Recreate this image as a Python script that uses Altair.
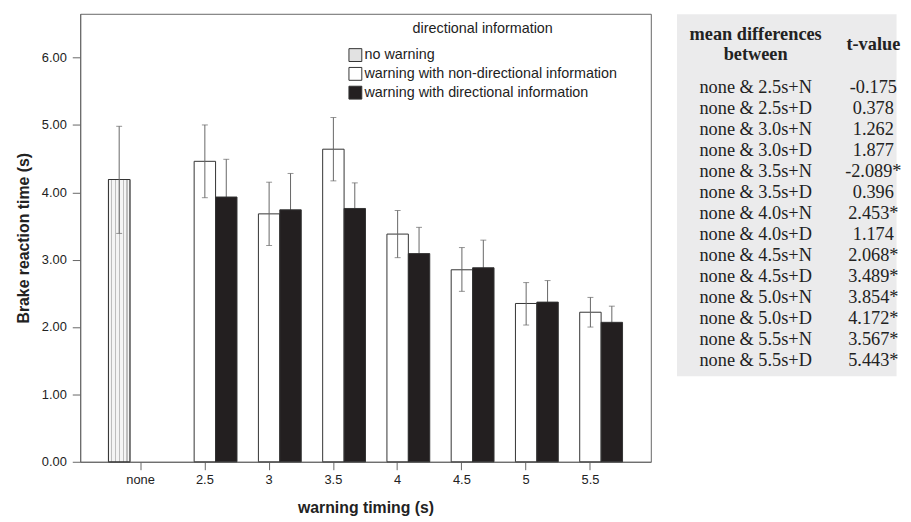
import altair as alt
import pandas as pd

# ---------------- data ----------------
timings = ["none", "2.5", "3", "3.5", "4", "4.5", "5", "5.5"]
series = ["no warning",
          "warning with non-directional information",
          "warning with directional information"]

none_mean = 4.19
none_lo = 3.39
none_hi = 4.98

nondir_mean = [4.46, 3.68, 4.64, 3.38, 2.85, 2.35, 2.22]
nondir_lo = [3.92, 3.21, 4.17, 3.03, 2.53, 2.03, 2.00]
nondir_hi = [5.00, 4.15, 5.11, 3.73, 3.18, 2.66, 2.44]

dir_mean = [3.93, 3.74, 3.76, 3.09, 2.88, 2.37, 2.07]
dir_lo = [3.37, 3.20, 3.38, 2.70, 2.47, 2.05, 1.83]
dir_hi = [4.49, 4.28, 4.14, 3.48, 3.29, 2.69, 2.31]

pairs = ["none & 2.5s+N", "none & 2.5s+D", "none & 3.0s+N", "none & 3.0s+D",
         "none & 3.5s+N", "none & 3.5s+D", "none & 4.0s+N", "none & 4.0s+D",
         "none & 4.5s+N", "none & 4.5s+D", "none & 5.0s+N", "none & 5.0s+D",
         "none & 5.5s+N", "none & 5.5s+D"]
tvalues = ["-0.175", "0.378", "1.262", "1.877", "-2.089*", "0.396", "2.453*",
           "1.174", "2.068*", "3.489*", "3.854*", "4.172*", "3.567*", "5.443*"]

rows = [dict(timing="none", series=series[0], mean=none_mean, lo=none_lo, hi=none_hi)]
for i, t in enumerate(timings[1:]):
    rows.append(dict(timing=t, series=series[1], mean=nondir_mean[i],
                     lo=nondir_lo[i], hi=nondir_hi[i]))
    rows.append(dict(timing=t, series=series[2], mean=dir_mean[i],
                     lo=dir_lo[i], hi=dir_hi[i]))
df = pd.DataFrame(rows)

FONT = "Liberation Sans"
SERIF = "Liberation Serif"
GREY = "#666666"
TXT = "#222222"

x_enc = alt.X("timing:N", sort=timings,
              scale=alt.Scale(domain=timings, paddingInner=0, paddingOuter=0.44),
              axis=alt.Axis(title="warning timing (s)", labelAngle=0,
                            labelFont=FONT, labelFontSize=13, labelColor=TXT,
                            titleFont=FONT, titleFontSize=16, titleFontWeight="bold",
                            titleColor=TXT, titlePadding=13, tickSize=8,
                            labelPadding=4, domainColor=GREY, tickColor=GREY))
xo_enc = alt.XOffset("series:N", sort=series,
                     scale=alt.Scale(domain=series, paddingInner=0, paddingOuter=0))
yscale = alt.Scale(domain=[0, 6.65], nice=False, zero=True)
y_enc = alt.Y("mean:Q", scale=yscale,
              axis=alt.Axis(title="Brake reaction time (s)", values=[0, 1, 2, 3, 4, 5, 6],
                            format=".2f", grid=False, labelFont=FONT, labelFontSize=13,
                            labelColor=TXT, titleFont=FONT, titleFontSize=16,
                            titleFontWeight="bold", titleColor=TXT, titlePadding=10,
                            tickSize=8, labelPadding=6, domainColor=GREY, tickColor=GREY))

base = alt.Chart(df).encode(x=x_enc, xOffset=xo_enc)

is_dir = alt.datum.series == series[2]

# error bars under the bars (directional series: lower whisker hidden by black bar)
err_rule_under = base.transform_filter(is_dir).mark_rule(color=GREY, strokeWidth=1).encode(
    y=alt.Y("lo:Q", scale=yscale), y2="hi:Q")
err_tick_under = base.transform_filter(is_dir).transform_fold(
    ["lo", "hi"], as_=["k", "v"]).mark_tick(color=GREY, size=6, thickness=1).encode(
    y=alt.Y("v:Q", scale=yscale))

bars = base.mark_bar(stroke="#333333", strokeWidth=1).encode(
    y=y_enc,
    fill=alt.Fill("series:N", sort=series,
                  scale=alt.Scale(domain=series, range=["#e2e2e2", "#ffffff", "#231f20"]),
                  legend=alt.Legend(title="directional information", orient="none",
                                    legendX=271, legendY=8, direction="vertical",
                                    titleAnchor="middle", titleFont=FONT,
                                    titleFontSize=14.5, titleFontWeight="normal",
                                    titleColor=TXT, labelFont=FONT, labelFontSize=14.5,
                                    labelColor=TXT, symbolType="square", symbolSize=169,
                                    symbolStrokeColor="#333333", symbolStrokeWidth=1,
                                    labelOffset=2, rowPadding=1, titlePadding=12,
                                    padding=0, labelLimit=500, symbolOpacity=1)))

# stippled fill for the "no warning" bar
stops = [alt.GradientStop(offset=0, color="#f4f4f4")]
for c in [0.12, 0.30, 0.48, 0.66, 0.84]:
    stops += [alt.GradientStop(offset=c, color="#f4f4f4"),
              alt.GradientStop(offset=c, color="#bdbdbd"),
              alt.GradientStop(offset=c + 0.05, color="#bdbdbd"),
              alt.GradientStop(offset=c + 0.05, color="#f4f4f4")]
stops.append(alt.GradientStop(offset=1, color="#f4f4f4"))
grad = alt.LinearGradient(gradient="linear", stops=stops, x1=0, x2=1, y1=0, y2=0)

none_overlay = base.transform_filter(alt.datum.series == series[0]).mark_bar(
    fill=grad, stroke="#333333", strokeWidth=1).encode(y=alt.Y("mean:Q", scale=yscale))

err_rule_top = base.transform_filter(~is_dir).mark_rule(color=GREY, strokeWidth=1).encode(
    y=alt.Y("lo:Q", scale=yscale), y2="hi:Q")
err_tick_top = base.transform_filter(~is_dir).transform_fold(
    ["lo", "hi"], as_=["k", "v"]).mark_tick(color=GREY, size=6, thickness=1).encode(
    y=alt.Y("v:Q", scale=yscale))

main = alt.layer(err_rule_under, err_tick_under, bars, none_overlay,
                 err_rule_top, err_tick_top).properties(width=577, height=453)

# ---------------- table ----------------
tdf = pd.DataFrame({"i": list(range(len(pairs))), "pair": pairs, "t": tvalues})
ty = alt.Y("i:Q", scale=alt.Scale(domain=[0, 13], range=[74.5, 350]), axis=None)
tbase = alt.Chart(tdf)
col1 = tbase.mark_text(font=SERIF, fontSize=18.5, color=TXT, align="center",
                       baseline="middle").encode(x=alt.value(80), y=ty, text="pair:N")
col2 = tbase.mark_text(font=SERIF, fontSize=18.5, color=TXT, align="center",
                       baseline="middle").encode(x=alt.value(199), y=ty, text="t:N")
one = pd.DataFrame({"a": [0]})
h1 = alt.Chart(one).mark_text(text="mean differences", font=SERIF, fontSize=18.5,
                              fontWeight="bold", color=TXT, align="center",
                              baseline="middle").encode(x=alt.value(80), y=alt.value(20))
h2 = alt.Chart(one).mark_text(text="between", font=SERIF, fontSize=18.5,
                              fontWeight="bold", color=TXT, align="center",
                              baseline="middle").encode(x=alt.value(80), y=alt.value(41))
h3 = alt.Chart(one).mark_text(text="t-value", font=SERIF, fontSize=18.5,
                              fontWeight="bold", color=TXT, align="center",
                              baseline="middle").encode(x=alt.value(199), y=alt.value(31))
table = alt.layer(col1, col2, h1, h2, h3).properties(
    width=222, height=366,
    view=alt.ViewBackground(fill="#ebebec", stroke="transparent"))

chart = alt.hconcat(main, table, spacing=24).properties(
    padding={"left": 7, "top": 2, "right": 0, "bottom": 0},
    background="white"
).configure_view(stroke=GREY, strokeWidth=1)

chart.save("out.html", embed_options={"renderer": "svg", "actions": False})
